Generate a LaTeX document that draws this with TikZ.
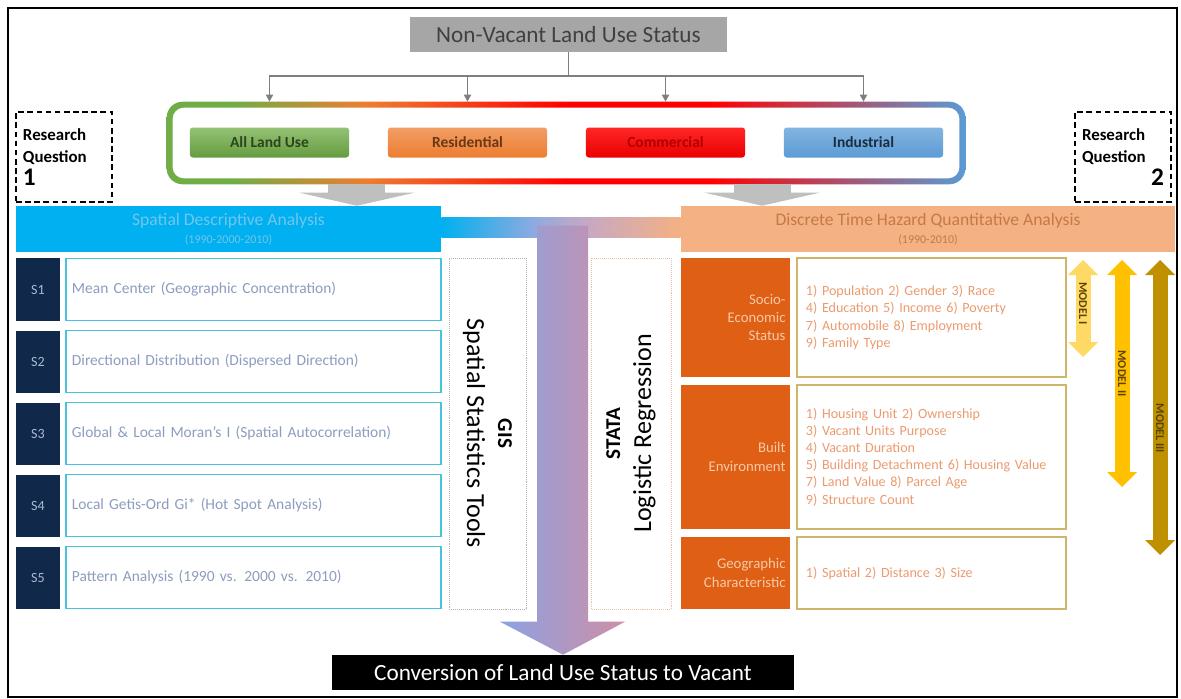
\documentclass[tikz,border=0pt]{standalone}
\usepackage{fontspec}
\setmainfont{Carlito}
\usepackage{xcolor}
\usepackage{tikz}
\usetikzlibrary{arrows.meta, calc}
\definecolor{statusgray}{HTML}{A6A6A6}
\definecolor{feedgray}{HTML}{7F7F7F}
\definecolor{lugreen}{HTML}{70AD47}
\definecolor{luorange}{HTML}{ED7D31}
\definecolor{lured}{HTML}{FF0000}
\definecolor{lublue}{HTML}{5B9BD5}
\definecolor{descblue}{HTML}{00B0F0}
\definecolor{desctext}{HTML}{72C6EC}
\definecolor{hazardtan}{HTML}{F4B183}
\definecolor{hazardtext}{HTML}{C47A45}
\definecolor{lavender}{HTML}{93AADF}
\definecolor{mauve}{HTML}{C6A8C4}
\definecolor{navy}{HTML}{10284A}
\definecolor{stagtext}{HTML}{A9B8D8}
\definecolor{rowline}{HTML}{45C4DC}
\definecolor{rowtext}{HTML}{8D9DBF}
\definecolor{factor}{HTML}{DF5F14}
\definecolor{factortext}{HTML}{F8C9A6}
\definecolor{varline}{HTML}{CDB56A}
\definecolor{vartext}{HTML}{EC9B70}
\definecolor{modelone}{HTML}{FFD966}
\definecolor{modeltwo}{HTML}{FFC000}
\definecolor{modelthree}{HTML}{BF9000}
\definecolor{modeltext}{HTML}{5A4300}

% Gradient of the land-use frame: green -> orange -> red -> blue.
% TikZ maps the 25bp..75bp part of a shading onto the path.
\pgfdeclarehorizontalshading{landuseframe}{100bp}{%
  color(0bp)=(lugreen); color(25bp)=(lugreen); color(29bp)=(lugreen);
  color(37.5bp)=(luorange); color(50bp)=(lured); color(59bp)=(lured);
  color(75bp)=(lublue); color(100bp)=(lublue)}
% Band joining the two analysis headers.
\pgfdeclarehorizontalshading{linkband}{100bp}{%
  color(0bp)=(descblue); color(25bp)=(descblue); color(45bp)=(lavender);
  color(55bp)=(mauve); color(75bp)=(hazardtan); color(100bp)=(hazardtan)}

\begin{document}
\begin{tikzpicture}[x=0.025cm, y=-0.025cm,
    % Header and result bars: flat fill, large text.
    status/.style={rectangle, fill=statusgray, text=black!75,
                   minimum width=7.925cm, minimum height=0.875cm,
                   font=\fontsize{16.5}{19}\selectfont},
    result/.style={status, fill=black, text=white, minimum width=11.55cm},
    % Grey feed lines from the header into the land-use frame.
    feed/.style={draw=feedgray, line width=1.4pt},
    feedarrow/.style={feed, -{Triangle[length=5pt, width=5pt]}},
    % Land-use categories: rounded boxes with a soft vertical gradient.
    catbox/.style={rectangle, rounded corners=2pt,
                   minimum width=3.975cm, minimum height=0.75cm,
                   font=\fontsize{11}{13}\bfseries\selectfont},
    % Dashed research question boxes.
    question/.style={rectangle, draw=black, line width=1.4pt,
                     dash pattern=on 4pt off 2.5pt,
                     minimum width=2.4cm, minimum height=2.25cm,
                     text width=2.05cm, align=left,
                     font=\fontsize{12}{16}\bfseries\selectfont},
    % Wide grey block arrows under the frame.
    chevron/.style={draw=black!25, line width=1.425cm,
                    -{Triangle[length=0.325cm, width=2.875cm, line width=0pt]}},
    % Analysis headers.
    band/.style={rectangle, minimum height=1.15cm, align=center},
    % Spatial statistics steps: navy tag plus outlined row.
    stag/.style={rectangle, fill=navy, text=stagtext,
                 minimum width=1.1cm, minimum height=1.55cm,
                 font=\fontsize{10}{12}\selectfont},
    srow/.style={rectangle, draw=rowline, line width=0.9pt, fill=white,
                 minimum width=9.375cm, minimum height=1.55cm,
                 text width=9.075cm, align=left, text=rowtext,
                 font=\fontsize{11}{13}\selectfont},
    % Software boxes with rotated labels.
    tool/.style={rectangle, draw=black!30, densely dotted, fill=white,
                 minimum width=8.775cm, align=center,
                 font=\fontsize{18.5}{22}\selectfont},
    % Factor groups: orange tag plus outlined variable list.
    factorbox/.style={rectangle, fill=factor, text=factortext,
                      minimum width=2.725cm, text width=2.5cm,
                      inner xsep=0.1cm, align=right,
                      font=\fontsize{10.5}{13}\selectfont},
    varbox/.style={rectangle, draw=varline, line width=0.9pt, fill=white,
                   minimum width=6.725cm, text width=6.275cm,
                   align=left, text=vartext,
                   font=\fontsize{10}{12.2}\selectfont},
    % Model ranges: thick double-headed arrows.
    modelarrow/.style={line width=0.375cm,
                       {Triangle[length=0.375cm, width=0.75cm, line width=0pt]}-%
                       {Triangle[length=0.375cm, width=0.75cm, line width=0pt]}},
    modellabel/.style={rotate=-90, text=modeltext, inner sep=0pt,
                       font=\fontsize{8.5}{9}\bfseries\selectfont}
]
    \useasboundingbox (0,0) rectangle (1181,698);
    \draw[line width=1pt] (8,8) rectangle (1177,697);

    % === Header ===
    \node[status] (status) at (568.5,34.5) {Non-Vacant Land Use Status};

    % === Land-use frame ===
    \node[minimum width=19.95cm, minimum height=2.05cm, inner sep=0pt]
        (frame) at (566,143) {};
    \shade[shading=landuseframe, rounded corners=4mm]
        (frame.south west) rectangle (frame.north east);
    \fill[white, rounded corners=2.8mm]
        ($(frame.south west)+(6,-6)$) rectangle ($(frame.north east)+(-6,6)$);

    \node[catbox, top color=lugreen!75!white, bottom color=lugreen!90!black,
          text=lugreen!40!black] (alluse) at (269.5,142.5) {All Land Use};
    \node[catbox, top color=luorange!75!white, bottom color=luorange,
          text=luorange!45!black] (resid) at (467.5,142.5) {Residential};
    \node[catbox, top color=lured!85!white, bottom color=lured!92!black,
          text=lured!70!black] (commer) at (665.5,142.5) {Commercial};
    \node[catbox, top color=lublue!75!white, bottom color=lublue,
          text=lublue!30!black] (indust) at (863.5,142.5) {Industrial};

    % Header -> categories
    \coordinate (split) at (568.5,76);
    \draw[feed] (status.south) -- (split);
    \draw[feedarrow] (split) -| (alluse |- frame.north);
    \draw[feedarrow] (split) -| (resid |- frame.north);
    \draw[feedarrow] (split) -| (commer |- frame.north);
    \draw[feedarrow] (split) -| (indust |- frame.north);

    % === Research questions ===
    \node[question] (rq1) at (64,157)
        {Research\\Question\\{\fontsize{18}{18}\selectfont 1}};
    \node[question] (rq2) at (1123,157)
        {Research\\Question\\\mbox{}\hskip 0pt plus 1filll{\fontsize{18}{18}\selectfont 2}};

    % === Analysis headers ===
    \node[band, fill=descblue, minimum width=10.625cm, text=desctext,
          font=\fontsize{12.5}{12.5}\selectfont] (desc) at (228.5,229)
        {Spatial Descriptive Analysis\\{\fontsize{8.5}{10}\selectfont (1990-2000-2010)}};
    \node[band, fill=hazardtan, minimum width=12.35cm, text=hazardtext,
          font=\fontsize{12.5}{12.5}\selectfont] (hazard) at (928,229)
        {Discrete Time Hazard Quantitative Analysis\\{\fontsize{8.5}{10}\selectfont (1990-2010)}};

    % Frame -> headers
    \coordinate (lchev) at ([xshift=-5.225cm]frame.south);
    \coordinate (rchev) at ([xshift=4.9cm]frame.south);
    \draw[chevron] (lchev) -- (lchev |- desc.north);
    \draw[chevron] (rchev) -- (rchev |- hazard.north);

    % Link band and the main downward arrow
    \shade[shading=linkband]
        ($(desc.east)+(0,-12)$) rectangle ($(hazard.west)+(0,8)$);

    % === Result ===
    \node[result] (conv) at (563,672.5) {Conversion of Land Use Status to Vacant};

    \shade[left color=lavender!95!blue, right color=mauve!85!red]
        (conv.north) -- ++(62,-33) -- ++(-37,0) -- ++(0,-396)
        -- ++(-51,0) -- ++(0,396) -- ++(-37,0) -- cycle;

    % === Spatial statistics steps (S1-S5) ===
    \node[stag] (s1) at (38,289.5) {S1};
    \node[stag] (s2) at (38,361.5) {S2};
    \node[stag] (s3) at (38,433.5) {S3};
    \node[stag] (s4) at (38,505.5) {S4};
    \node[stag] (s5) at (38,577.5) {S5};
    \node[srow] (row1) at (253.5,289.5) {Mean Center (Geographic Concentration)};
    \node[srow] (row2) at (253.5,361.5) {Directional Distribution (Dispersed Direction)};
    \node[srow] (row3) at (253.5,433.5) {Global \& Local Moran's I (Spatial Autocorrelation)};
    \node[srow] (row4) at (253.5,505.5) {Local Getis-Ord Gi* (Hot Spot Analysis)};
    \node[srow] (row5) at (253.5,577.5) {Pattern Analysis (1990 vs. 2000 vs. 2010)};

    % === Tools ===
    \node[tool, rotate=-90, minimum height=1.925cm] (gis) at (487.5,433.5)
        {{\fontsize{15}{18}\bfseries\selectfont GIS}\\Spatial Statistics Tools};
    \node[tool, rotate=90, minimum height=2cm, draw=hazardtext!45] (stata) at (631,433.5)
        {{\fontsize{15}{18}\bfseries\selectfont STATA}\\Logistic Regression};

    % === Factor groups ===
    \node[factorbox, minimum height=2.975cm] (socio) at (735.5,317.5)
        {Socio-\\Economic\\Status};
    \node[factorbox, minimum height=3.6cm] (built) at (735.5,457)
        {Built\\Environment};
    \node[factorbox, minimum height=1.8cm] (geo) at (735.5,573)
        {Geographic\\Characteristic};
    \node[varbox, minimum height=2.975cm] (sociovar) at (931.5,317.5)
        {1) Population 2) Gender 3) Race\\4) Education 5) Income 6) Poverty\\
         7) Automobile 8) Employment\\9) Family Type};
    \node[varbox, minimum height=3.6cm] (builtvar) at (931.5,457)
        {1) Housing Unit 2) Ownership\\3) Vacant Units Purpose\\4) Vacant Duration\\
         5) Building Detachment 6) Housing Value\\7) Land Value 8) Parcel Age\\
         9) Structure Count};
    \node[varbox, minimum height=1.8cm] (geovar) at (931.5,573)
        {1) Spatial 2) Distance 3) Size};

    % === Model ranges ===
    \coordinate (m1a) at (1083,260);  \coordinate (m1b) at (1083,357);
    \coordinate (m2a) at (1122,260);  \coordinate (m2b) at (1122,487);
    \coordinate (m3a) at (1160,260);  \coordinate (m3b) at (1160,555);
    \draw[modelarrow, draw=modelone, fill=modelone] (m1a) -- node[modellabel, pos=0.45] {MODEL I} (m1b);
    \draw[modelarrow, draw=modeltwo, fill=modeltwo] (m2a) -- node[modellabel, pos=0.5] {MODEL II} (m2b);
    \draw[modelarrow, draw=modelthree, fill=modelthree] (m3a) -- node[modellabel, pos=0.57] {MODEL III} (m3b);

\end{tikzpicture}
\end{document}
